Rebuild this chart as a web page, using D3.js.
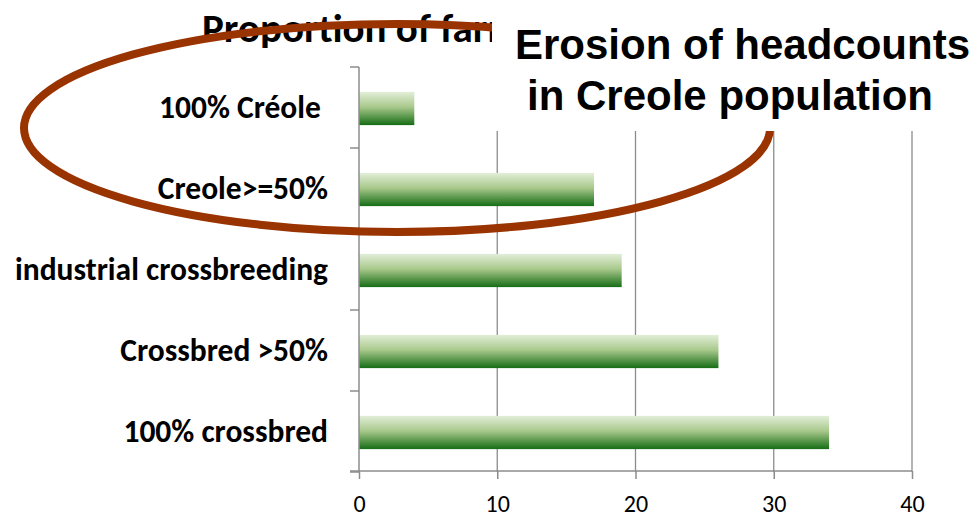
<!DOCTYPE html>
<html>
<head>
<meta charset="utf-8">
<script src="https://cdn.jsdelivr.net/npm/d3@7"></script>
<style>
  html, body { margin: 0; padding: 0; background: #fff; }
  svg { display: block; }
</style>
</head>
<body>
<svg id="chart" width="979" height="517"></svg>
<script>
// ---- data ----
const categories = ["100% Créole ", "Creole>=50%", "industrial crossbreeding", "Crossbred >50%", "100% crossbred"];
const values = [4, 17, 19, 26, 34];
const xTicks = [0, 10, 20, 30, 40];
const chartTitle = "Proportion of farms";
const noteLines = ["Erosion of headcounts", "in Creole population"];

// ---- layout ----
const svg = d3.select("#chart");
const plotL = 359, plotR = 912, plotT = 67, plotB = 472;

const x = d3.scaleLinear().domain([0, 40]).range([plotL, plotR]);
const y = d3.scaleBand().domain(categories).range([plotT, plotB]).padding(0);
const barH = y.bandwidth() * 0.41;

const defs = svg.append("defs");
const grad = defs.append("linearGradient").attr("id", "barGrad")
  .attr("x1", 0).attr("y1", 0).attr("x2", 0).attr("y2", 1);
grad.append("stop").attr("offset", "0%").attr("stop-color", "#e2eed8");
grad.append("stop").attr("offset", "45%").attr("stop-color", "#a9c98c");
grad.append("stop").attr("offset", "100%").attr("stop-color", "#166d16");

const calib = "Carlito, Calibri, Lato, 'Open Sans', sans-serif";

// title (partly hidden by the note box)
svg.append("text")
  .attr("x", 202).attr("y", 42)
  .attr("font-family", calib).attr("font-weight", "bold")
  .attr("font-size", 41).attr("fill", "#000")
  .text(chartTitle);

// gridlines
svg.append("g").selectAll("line")
  .data(xTicks.filter(d => d > 0))
  .join("line")
  .attr("x1", d => x(d)).attr("x2", d => x(d))
  .attr("y1", plotT).attr("y2", plotB)
  .attr("stroke", "#8c8c8c").attr("stroke-width", 1.3);

// bars
svg.append("g").selectAll("rect")
  .data(categories.map((c, i) => ({ c, v: values[i] })))
  .join("rect")
  .attr("x", x(0))
  .attr("y", d => y(d.c) + (y.bandwidth() - barH) / 2 + 1)
  .attr("width", d => x(d.v) - x(0))
  .attr("height", barH)
  .attr("fill", "url(#barGrad)");

// y axis line + boundary ticks
const bounds = categories.map(c => y(c)).concat([plotB]);
svg.append("line")
  .attr("x1", plotL).attr("x2", plotL).attr("y1", plotT).attr("y2", plotB)
  .attr("stroke", "#8c8c8c").attr("stroke-width", 1.5);
svg.append("g").selectAll("line")
  .data(bounds)
  .join("line")
  .attr("x1", plotL - 9).attr("x2", plotL)
  .attr("y1", d => d).attr("y2", d => d)
  .attr("stroke", "#8c8c8c").attr("stroke-width", 1.5);

// y labels
const yAxis = svg.append("g")
  .attr("transform", `translate(${plotL},0)`)
  .call(d3.axisLeft(y).tickSize(0).tickPadding(31));
yAxis.select(".domain").remove();
yAxis.selectAll("text")
  .attr("font-family", calib).attr("font-weight", "bold")
  .attr("font-size", 31.5).attr("fill", "#000")
  .style("white-space", "pre");

// x axis
const xAxis = svg.append("g")
  .attr("transform", `translate(0,${plotB - 1})`)
  .call(d3.axisBottom(x).tickValues(xTicks).tickSize(8).tickSizeOuter(0).tickPadding(16));
xAxis.select(".domain").remove();
xAxis.append("line")
  .attr("x1", plotL - 9).attr("x2", plotR).attr("y1", 0).attr("y2", 0)
  .attr("stroke", "#8c8c8c").attr("stroke-width", 1.5);
xAxis.selectAll(".tick line").attr("stroke", "#8c8c8c").attr("stroke-width", 1.5);
xAxis.selectAll("text")
  .attr("font-family", calib).attr("font-size", 24).attr("fill", "#000");

// hand-drawn ellipse
svg.append("ellipse")
  .attr("cx", 397).attr("cy", 128).attr("rx", 373).attr("ry", 104)
  .attr("fill", "none").attr("stroke", "#993300").attr("stroke-width", 8);

// note box covering the top right
svg.append("rect")
  .attr("x", 492).attr("y", 0).attr("width", 979 - 492).attr("height", 131)
  .attr("fill", "#fff");
const noteX = [515, 527];
const noteY = [59, 110];
svg.append("g").selectAll("text")
  .data(noteLines)
  .join("text")
  .attr("x", (d, i) => noteX[i]).attr("y", (d, i) => noteY[i])
  .attr("font-family", "'Liberation Sans', Arial, sans-serif")
  .attr("font-weight", "bold").attr("font-size", 42).attr("fill", "#000")
  .text(d => d);
</script>
</body>
</html>
